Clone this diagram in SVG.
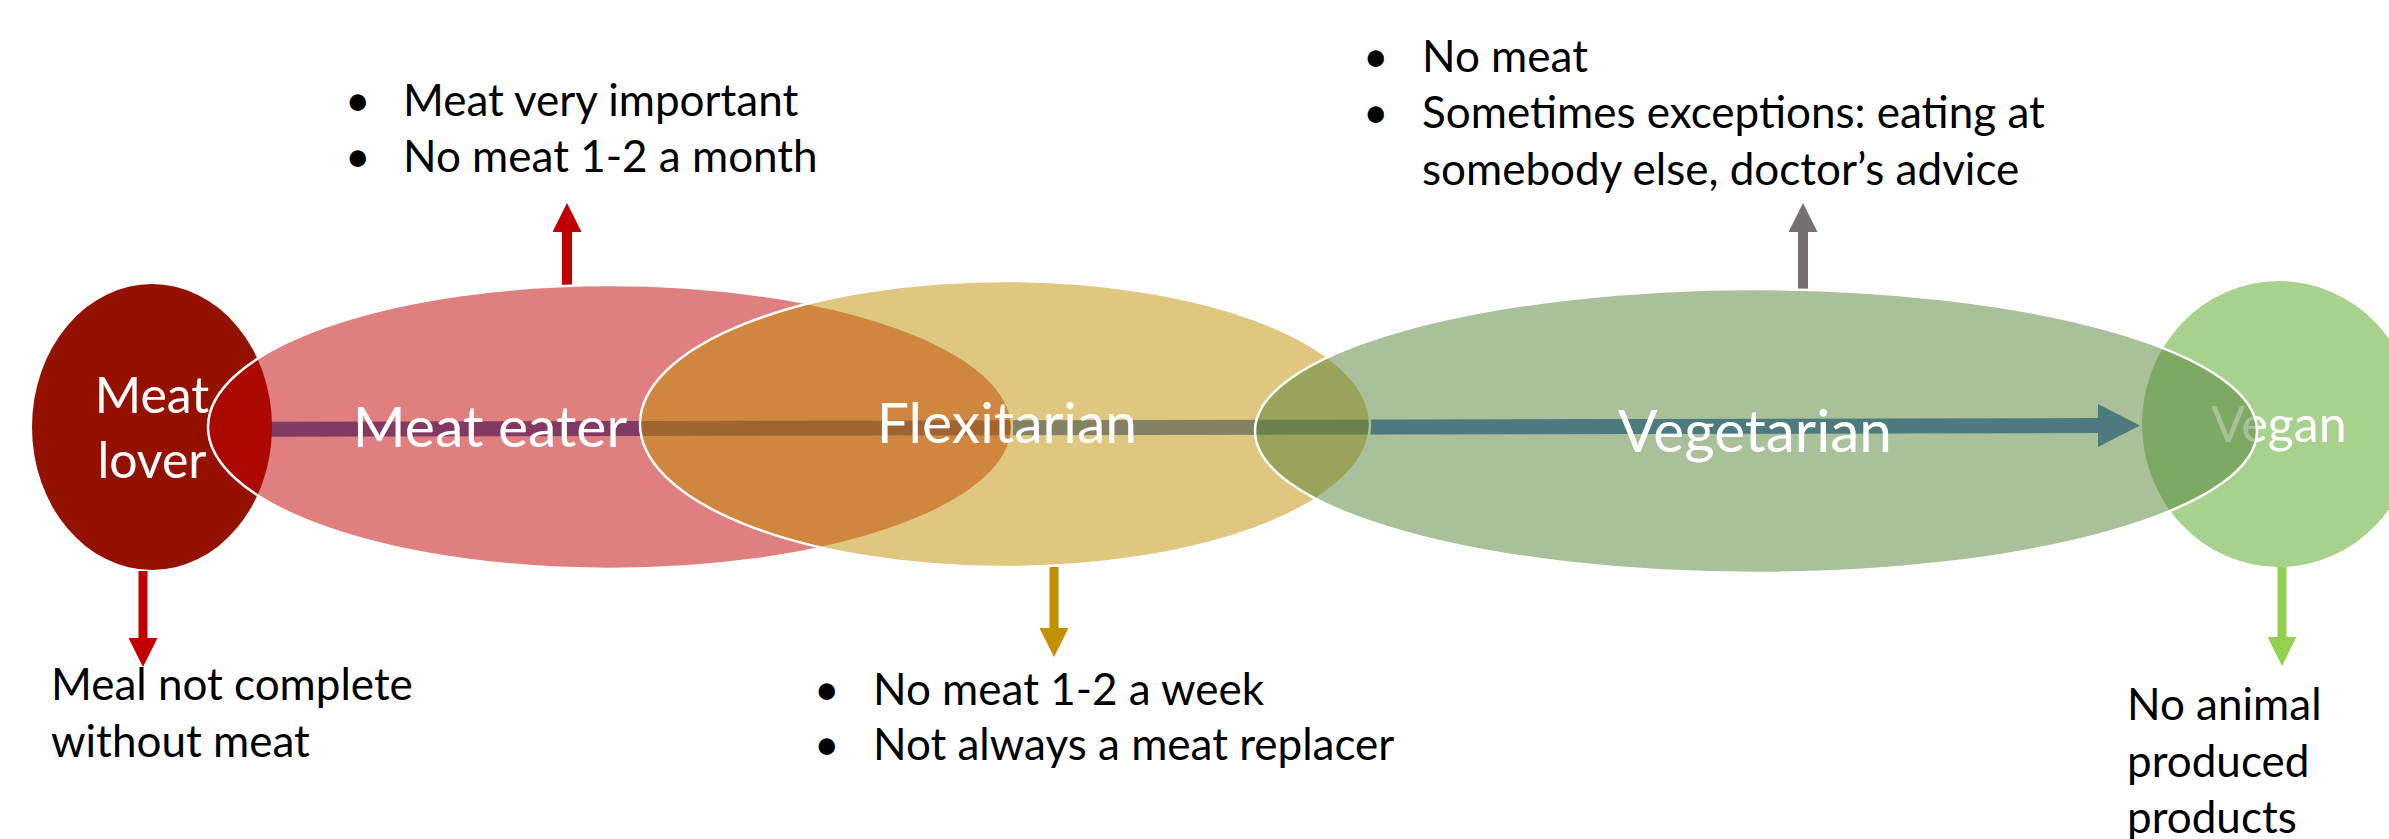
<svg xmlns="http://www.w3.org/2000/svg" width="2389" height="839" viewBox="0 0 2389 839">
<defs>
<style>
.lbl{font-family:Lato,"Liberation Sans",sans-serif;fill:#ffffff;text-anchor:middle}
.big{font-size:57px}
.mid{font-size:50px}
.note{font-family:Lato,"Liberation Sans",sans-serif;font-size:44px;fill:#000000}
.ring{stroke:#ffffff;stroke-width:2.5}
</style>
<marker id="ah-red" viewBox="0 0 10 10" refX="0" refY="5" markerWidth="29" markerHeight="29" markerUnits="userSpaceOnUse" orient="auto"><path d="M0,0 L10,5 L0,10 z" fill="#C00000"/></marker>
<marker id="ah-gold" viewBox="0 0 10 10" refX="0" refY="5" markerWidth="29" markerHeight="29" markerUnits="userSpaceOnUse" orient="auto"><path d="M0,0 L10,5 L0,10 z" fill="#BF9000"/></marker>
<marker id="ah-gray" viewBox="0 0 10 10" refX="0" refY="5" markerWidth="29" markerHeight="29" markerUnits="userSpaceOnUse" orient="auto"><path d="M0,0 L10,5 L0,10 z" fill="#767171"/></marker>
<marker id="ah-green" viewBox="0 0 10 10" refX="0" refY="5" markerWidth="29" markerHeight="29" markerUnits="userSpaceOnUse" orient="auto"><path d="M0,0 L10,5 L0,10 z" fill="#92D050"/></marker>
</defs>
<rect width="2389" height="839" fill="#ffffff"/>
<g id="connectors">
<path id="spectrum-arrow" d="M150,422 L2098,418 L2098,404 L2140,425.5 L2098,447 L2098,433 L150,437 Z" fill="#4472C4"/>
<line x1="567" y1="287" x2="567" y2="232" stroke="#C00000" stroke-width="10" marker-end="url(#ah-red)"/>
<line x1="143" y1="571" x2="143" y2="638" stroke="#C00000" stroke-width="9" marker-end="url(#ah-red)"/>
<line x1="1054" y1="567" x2="1054" y2="628" stroke="#BF9000" stroke-width="9" marker-end="url(#ah-gold)"/>
<line x1="1803" y1="289" x2="1803" y2="232" stroke="#767171" stroke-width="10" marker-end="url(#ah-gray)"/>
<line x1="2282" y1="567" x2="2282" y2="637" stroke="#92D050" stroke-width="9" marker-end="url(#ah-green)"/>
</g>
<g id="meat-lover">
<ellipse cx="152" cy="427" rx="120" ry="143" fill="#941100"/>
<text class="lbl mid" x="152" y="413">Meat</text>
<text class="lbl mid" x="152" y="478">lover</text>
</g>
<g id="meat-eater">
<ellipse class="ring" cx="610" cy="427" rx="402" ry="142" fill="rgba(192,0,0,0.5)"/>
<text class="lbl big" x="490" y="447">Meat eater</text>
</g>
<g id="flexitarian">
<ellipse class="ring" cx="1005" cy="424" rx="365" ry="143" fill="rgba(191,144,0,0.5)"/>
<text class="lbl big" x="1007" y="443">Flexitarian</text>
</g>
<g id="vegan">
<ellipse cx="2279" cy="424" rx="137" ry="143" fill="#A9D18E"/>
<text class="lbl mid" x="2279" y="442">Vegan</text>
</g>
<g id="vegetarian">
<ellipse class="ring" cx="1756" cy="431" rx="501" ry="142" fill="rgba(84,130,53,0.5)"/>
<text class="lbl big" x="1755" y="452" style="font-size:58.5px">Vegetarian</text>
</g>
<g id="note-meat-eater">
<text class="note" x="345" y="116">•</text><text class="note" x="403" y="116">Meat very important</text>
<text class="note" x="345" y="172">•</text><text class="note" x="403" y="172">No meat 1-2 a month</text>
</g>
<g id="note-vegetarian">
<text class="note" x="1363" y="72">•</text><text class="note" x="1422" y="72">No meat</text>
<text class="note" x="1363" y="128">•</text><text class="note" x="1422" y="128">Sometimes exceptions: eating at</text>
<text class="note" x="1422" y="185">somebody else, doctor’s advice</text>
</g>
<g id="note-flexitarian">
<text class="note" x="814" y="705">•</text><text class="note" x="873" y="705">No meat 1-2 a week</text>
<text class="note" x="814" y="760">•</text><text class="note" x="873" y="760">Not always a meat replacer</text>
</g>
<g id="note-meat-lover">
<text class="note" x="51" y="700">Meal not complete</text>
<text class="note" x="51" y="757">without meat</text>
</g>
<g id="note-vegan">
<text class="note" x="2127" y="720">No animal</text>
<text class="note" x="2127" y="777">produced</text>
<text class="note" x="2127" y="833">products</text>
</g>
</svg>
